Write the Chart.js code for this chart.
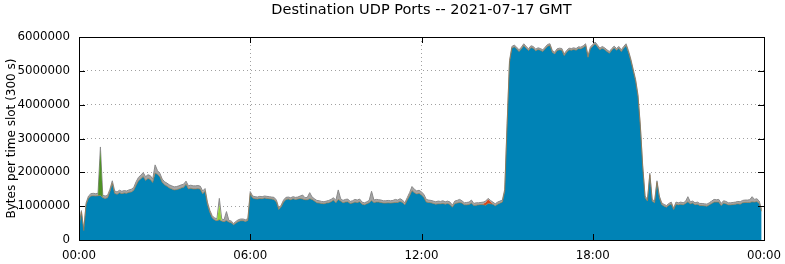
<!DOCTYPE html>
<html>
<head>
<meta charset="utf-8">
<title>Destination UDP Ports</title>
<script src="https://cdn.jsdelivr.net/npm/chart.js@4.4.0/dist/chart.umd.min.js"></script>
<style>
  html, body { margin: 0; padding: 0; background: #fff; }
  canvas { display: block; }
</style>
</head>
<body>
<canvas id="graficoUdp" width="785" height="264"></canvas>
<script>
// Valores, em milhares de bytes por slot de 5 minutos (288 slots)
// cada linha = 2 horas (24 slots)
const portaPrincipal = [
  370,830,280,1050,1240,1300,1310,1300,1310,1320,1250,1230,1250,1430,1670,1380,1350,1400,1370,1390,1380,1410,1420,1470,
  1620,1750,1810,1880,1760,1820,1790,1700,1980,1940,1870,1700,1630,1590,1540,1510,1480,1490,1510,1540,1560,1650,1510,1530,
  1510,1510,1520,1500,1370,1440,1050,820,660,590,570,600,560,540,580,530,510,450,500,550,570,570,550,580,
  1370,1240,1220,1210,1230,1220,1240,1230,1220,1210,1200,1120,900,980,1120,1200,1210,1190,1220,1200,1210,1230,1210,1190,
  1190,1220,1200,1150,1100,1090,1080,1070,1090,1100,1130,1180,1100,1200,1150,1100,1120,1130,1080,1090,1120,1110,1130,1060,
  1040,1070,1100,1170,1110,1120,1120,1110,1090,1090,1100,1090,1100,1110,1110,1140,1110,1040,1180,1310,1460,1400,1360,1380,
  1330,1260,1120,1110,1100,1080,1060,1070,1070,1080,1060,1080,1050,970,1080,1090,1110,1090,1040,1040,1050,1090,1020,1030,
  1040,1050,1040,1030,1080,1070,1060,1010,1060,1090,1120,1440,3400,5250,5670,5710,5650,5570,5650,5750,5670,5600,5690,5670,
  5590,5630,5610,5570,5650,5730,5750,5550,5500,5600,5620,5610,5450,5550,5620,5610,5630,5610,5660,5650,5690,5750,5400,5650,
  5730,5800,5710,5620,5670,5630,5570,5520,5610,5680,5610,5670,5570,5670,5750,5550,5300,5000,4700,4250,3350,2150,1250,1150,
  1920,1150,1100,1700,1250,1050,1000,970,1030,1070,900,1060,1040,1060,1040,1080,1130,1070,1090,1040,1060,1020,1020,1010,
  1000,1040,1080,1120,1120,1120,1020,1090,1070,1040,1040,1050,1060,1070,1060,1100,1110,1110,1110,1130,1120,1140,1080,850
];

const portaVermelha = [
  0,0,0,0,0,0,0,0,0,0,0,0,0,0,0,0,0,0,0,0,0,0,0,0,
  0,0,0,0,0,0,0,0,0,0,0,0,0,0,0,0,0,0,0,0,0,0,0,0,
  0,0,0,0,0,0,0,0,0,0,0,0,0,0,0,0,0,0,0,0,0,0,0,0,
  0,0,0,0,0,0,0,0,0,0,0,0,0,0,0,0,0,0,0,0,0,0,0,0,
  0,0,0,0,0,0,0,0,0,0,0,0,0,0,0,0,0,0,0,0,0,0,0,0,
  0,0,0,0,0,0,0,0,0,0,0,0,0,0,0,0,0,0,0,0,0,0,0,0,
  0,0,0,0,0,0,0,0,0,0,0,0,0,0,0,0,0,0,0,0,0,0,0,0,
  0,0,30,80,120,60,0,0,0,0,0,0,0,0,0,0,0,0,0,0,0,0,0,0,
  0,0,0,0,0,0,0,0,0,0,0,0,0,0,0,0,0,0,0,0,0,0,0,0,
  0,0,0,0,0,0,0,0,0,0,0,0,0,0,0,0,0,0,0,0,0,0,0,0,
  0,0,0,0,0,0,0,0,0,0,0,0,0,0,0,0,0,0,0,0,0,0,0,0,
  0,0,0,0,0,0,0,0,0,0,0,0,0,0,0,0,0,0,0,0,0,0,0,0
];

const portaVerdeEscura = [
  0,0,0,0,0,0,0,0,0,1330,0,0,0,0,0,0,0,0,0,0,0,0,0,0,
  0,0,0,0,0,0,0,0,0,0,0,0,0,0,0,0,0,0,0,0,0,0,0,0,
  0,0,0,0,0,0,0,0,0,0,0,0,0,0,0,0,0,0,0,0,0,0,0,0,
  0,0,0,0,0,0,0,0,0,0,0,0,0,0,0,0,0,0,0,0,0,0,0,0,
  0,0,0,0,0,0,0,0,0,0,0,0,0,0,0,0,0,0,0,0,0,0,0,0,
  0,0,0,0,0,0,0,0,0,0,0,0,0,0,0,0,0,0,0,0,0,0,0,0,
  0,0,0,0,0,0,0,0,0,0,0,0,0,0,0,0,0,0,0,0,0,0,0,0,
  0,0,0,0,0,0,0,0,0,0,0,0,0,0,0,0,0,0,0,0,0,0,0,0,
  0,0,0,0,0,0,0,0,0,0,0,0,0,0,0,0,0,0,0,0,0,0,0,0,
  0,0,0,0,0,0,0,0,0,0,0,0,0,0,0,0,0,0,0,0,0,0,0,0,
  0,0,0,0,0,0,0,0,0,0,0,0,0,0,0,0,0,0,0,0,0,0,0,0,
  0,0,0,0,0,0,0,0,0,0,0,0,0,0,0,0,0,0,0,0,0,0,0,0
];

const portaVerdeClara = [
  0,0,0,0,0,0,0,0,0,0,0,0,0,0,0,0,0,0,0,0,0,0,0,0,
  0,0,0,0,0,0,0,0,0,0,0,0,0,0,0,0,0,0,0,0,0,0,0,0,
  0,0,0,0,0,0,0,0,0,0,0,450,0,0,0,0,0,0,0,0,0,0,0,0,
  0,0,0,0,0,0,0,0,0,0,0,0,0,0,0,0,0,0,0,0,0,0,0,0,
  0,0,0,0,0,0,0,0,0,0,0,0,0,0,0,0,0,0,0,0,0,0,0,0,
  0,0,0,0,0,0,0,0,0,0,0,0,0,0,0,0,0,0,0,0,0,0,0,0,
  0,0,0,0,0,0,0,0,0,0,0,0,0,0,0,0,0,0,0,0,0,0,0,0,
  0,0,0,0,0,0,0,0,0,0,0,0,0,0,0,0,0,0,0,0,0,0,0,0,
  0,0,0,0,0,0,0,0,0,0,0,0,0,0,0,0,0,0,0,0,0,0,0,0,
  0,0,0,0,0,0,0,0,0,0,0,0,0,0,0,0,0,0,0,0,0,0,0,0,
  0,0,0,0,0,0,0,0,0,0,0,0,0,0,0,0,0,0,0,0,0,0,0,0,
  0,0,0,0,0,0,0,0,0,0,0,0,0,0,0,0,0,0,0,0,0,0,0,0
];

const outrasPortas = [
  20,40,20,50,60,70,70,70,70,100,70,70,70,70,80,70,70,70,70,70,70,70,80,80,
  100,100,110,110,110,110,110,100,240,110,100,100,90,90,90,90,90,90,90,90,90,90,90,90,
  90,90,90,90,80,80,70,60,60,60,60,180,60,60,260,50,50,40,50,50,50,50,50,50,
  60,60,60,60,60,60,60,60,60,60,60,60,50,50,60,60,60,60,60,60,60,70,120,60,
  70,180,70,70,70,70,60,60,60,70,70,70,70,280,70,70,80,80,60,70,80,70,80,60,
  60,60,70,270,70,80,70,70,70,70,70,70,70,90,70,80,70,60,70,90,120,100,90,90,
  90,90,80,70,70,70,70,80,70,80,70,70,70,60,70,80,90,70,60,70,70,90,60,70,
  60,60,50,40,30,40,60,60,60,60,60,60,50,50,50,50,50,50,50,50,50,50,50,50,
  50,50,50,50,50,50,50,50,50,50,50,50,50,50,50,50,50,50,50,50,50,50,50,50,
  50,50,50,50,50,50,50,50,50,50,50,50,50,50,50,50,50,50,50,50,50,50,50,50,
  50,50,50,50,50,50,50,50,50,50,40,60,60,60,60,60,150,60,60,60,60,60,60,60,
  60,60,70,80,70,80,60,70,70,60,60,60,60,70,70,70,70,70,80,150,80,80,70,50
];

const rotulosHoras = ['00:00', '06:00', '12:00', '18:00', '00:00'];

// minuto do dia de cada slot (slots de 300 s)
const minutosSlot = portaPrincipal.map((_, i) => i * 5);
const emBytes = (lista) => lista.map(v => v * 1000);

// Moldura preta com marcas de escala para dentro (estilo gnuplot)
const moldura = {
    id: 'moldura',
    afterDatasetsDraw(chart) {
        const { ctx, chartArea: a, scales: { x, y } } = chart;
        ctx.save();
        ctx.strokeStyle = '#000';
        ctx.lineWidth = 1;
        ctx.beginPath();
        y.ticks.forEach(t => {
            const py = Math.round(y.getPixelForValue(t.value)) + 0.5;
            ctx.moveTo(a.left, py); ctx.lineTo(a.left + 6, py);
            ctx.moveTo(a.right, py); ctx.lineTo(a.right - 6, py);
        });
        x.ticks.forEach(t => {
            const px = Math.round(x.getPixelForValue(t.value)) + 0.5;
            ctx.moveTo(px, a.top); ctx.lineTo(px, a.top + 6);
            ctx.moveTo(px, a.bottom); ctx.lineTo(px, a.bottom - 6);
        });
        ctx.stroke();
        ctx.strokeRect(a.left + 0.5, a.top + 0.5, a.right - a.left, a.bottom - a.top);
        ctx.restore();
    }
};

function plotarGrafico() {
    Chart.defaults.font.family = "'DejaVu Sans', sans-serif";
    Chart.defaults.color = '#000';

    const serie = (rotulo, dados, cor, borda, largura) => ({
        label: rotulo,
        data: emBytes(dados),
        backgroundColor: cor,
        borderColor: borda,
        borderWidth: largura,
        fill: rotulo === 'principal' ? 'origin' : '-1',
        pointRadius: 0,
        tension: 0
    });

    const config = {
        type: 'line',
        data: {
            labels: minutosSlot,
            datasets: [
                serie('principal', portaPrincipal, '#0083b6', 'rgba(160,120,70,0.7)', 1),
                serie('vermelha', portaVermelha, '#d8461a', 'rgba(0,0,0,0)', 0),
                serie('verde escura', portaVerdeEscura, '#4f9226', 'rgba(0,0,0,0)', 0),
                serie('verde clara', portaVerdeClara, '#93d438', 'rgba(0,0,0,0)', 0),
                serie('outras', outrasPortas, '#a6a6a6', '#8a8a8a', 1)
            ]
        },
        options: {
            responsive: false,
            animation: false,
            layout: { padding: { left: 0, right: 21, top: 0, bottom: 0 } },
            plugins: {
                legend: { display: false },
                tooltip: { enabled: false },
                title: {
                    display: true,
                    text: 'Destination UDP Ports -- 2021-07-17 GMT',
                    fullSize: false,
                    font: { size: 14.5, weight: 'normal' },
                    padding: { top: 2, bottom: 17.6 }
                }
            },
            scales: {
                x: {
                    type: 'linear',
                    min: 0,
                    max: 1440,
                    grid: { color: '#a0a0a0', drawTicks: false },
                    border: { display: false, dash: [1, 3] },
                    ticks: {
                        stepSize: 360,
                        padding: 9,
                        maxRotation: 0,
                        autoSkip: false,
                        font: { size: 11.8 },
                        callback: (v) => rotulosHoras[v / 360]
                    },
                    afterFit: (s) => {
                        s.height = 24;
                        s.paddingLeft = 0;
                        s.paddingRight = 0;
                    }
                },
                y: {
                    stacked: true,
                    min: 0,
                    max: 6000000,
                    grid: { color: '#a0a0a0', drawTicks: false },
                    border: { display: false, dash: [1, 3] },
                    ticks: {
                        stepSize: 1000000,
                        padding: 9,
                        font: { size: 11.8 },
                        callback: (v) => v.toFixed(0)
                    },
                    title: {
                        display: true,
                        text: 'Bytes per time slot (300 s)',
                        font: { size: 12 },
                        padding: { top: 5, bottom: 0 }
                    },
                    afterFit: (s) => {
                        s.width = 79;
                        s.paddingTop = 0;
                        s.paddingBottom = 0;
                    }
                }
            }
        },
        plugins: [moldura]
    };

    new Chart(document.getElementById('graficoUdp'), config);
}

plotarGrafico();
</script>
</body>
</html>
